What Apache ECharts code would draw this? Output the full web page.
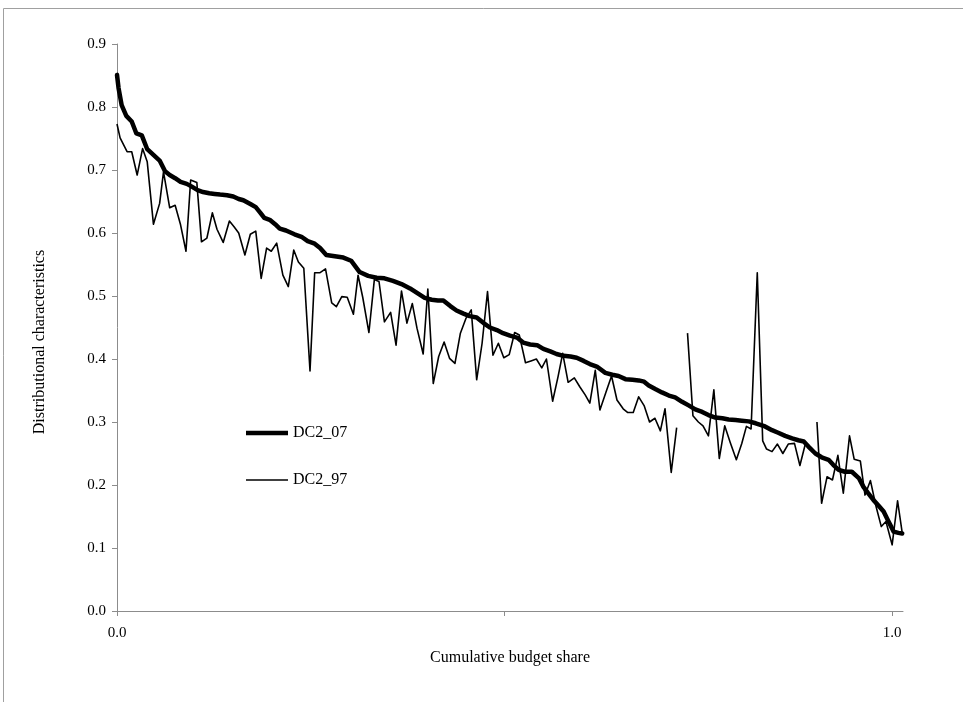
<!DOCTYPE html>
<html>
<head>
<meta charset="utf-8">
<script src="https://cdn.jsdelivr.net/npm/echarts@6/dist/echarts.min.js"></script>
<style>
  html, body { margin: 0; padding: 0; background: #fff; }
  #chart { width: 963px; height: 702px; }
</style>
</head>
<body>
<div id="chart"></div>
<script>
// Cumulative budget share (x) and distributional characteristics (y), 1997 survey
var share97 = [0.000, 0.004, 0.013, 0.019, 0.026, 0.033, 0.039, 0.047, 0.055, 0.060,
  0.068, 0.075, 0.082, 0.089, 0.095, 0.103, 0.109, 0.116, 0.123, 0.129,
  0.137, 0.145, 0.151, 0.157, 0.165, 0.172, 0.179, 0.186, 0.193, 0.199,
  0.206, 0.214, 0.221, 0.228, 0.234, 0.241, 0.249, 0.255, 0.262, 0.269,
  0.277, 0.283, 0.290, 0.297, 0.305, 0.311, 0.317, 0.325, 0.332, 0.338,
  0.345, 0.353, 0.360, 0.367, 0.374, 0.381, 0.387, 0.395, 0.401, 0.408,
  0.415, 0.422, 0.429, 0.436, 0.443, 0.450, 0.457, 0.464, 0.471, 0.478,
  0.485, 0.492, 0.499, 0.506, 0.513, 0.519, 0.527, 0.534, 0.541, 0.548,
  0.554, 0.562, 0.569, 0.575, 0.582, 0.590, 0.597, 0.604, 0.610, 0.617,
  0.623, 0.631, 0.638, 0.645, 0.653, 0.659, 0.666, 0.673, 0.680, 0.687,
  0.694, 0.701, 0.707, 0.715, 0.722, 0.729, 0.736, 0.743, 0.750, 0.756,
  0.763, 0.770, 0.777, 0.784, 0.791, 0.799, 0.806, 0.812, 0.818, 0.826,
  0.833, 0.838, 0.845, 0.852, 0.859, 0.866, 0.874, 0.881, 0.888, 0.895,
  0.903, 0.909, 0.916, 0.923, 0.930, 0.937, 0.945, 0.951, 0.959, 0.965,
  0.972, 0.979, 0.986, 0.992, 1.000, 1.007, 1.013];
var dc97 = [0.773, 0.751, 0.729, 0.729, 0.692, 0.734, 0.713, 0.614, 0.647, 0.697,
  0.640, 0.644, 0.613, 0.571, 0.684, 0.680, 0.586, 0.592, 0.632, 0.606,
  0.585, 0.619, 0.610, 0.600, 0.565, 0.598, 0.603, 0.528, 0.576, 0.571,
  0.584, 0.533, 0.515, 0.573, 0.554, 0.544, 0.381, 0.537, 0.537, 0.543,
  0.489, 0.483, 0.499, 0.498, 0.471, 0.533, 0.498, 0.442, 0.526, 0.523,
  0.459, 0.474, 0.422, 0.508, 0.457, 0.488, 0.449, 0.408, 0.511, 0.361,
  0.404, 0.427, 0.401, 0.393, 0.441, 0.464, 0.478, 0.367, 0.425, 0.507,
  0.406, 0.425, 0.402, 0.407, 0.442, 0.438, 0.394, 0.397, 0.400, 0.386,
  0.400, 0.333, 0.372, 0.409, 0.363, 0.370, 0.356, 0.343, 0.330, 0.382,
  0.319, 0.348, 0.373, 0.335, 0.321, 0.315, 0.315, 0.340, 0.326, 0.300,
  0.306, 0.286, 0.321, 0.220, 0.291, null, 0.441, 0.310, 0.300, 0.294,
  0.278, 0.351, 0.242, 0.294, 0.268, 0.240, 0.266, 0.293, 0.289, 0.537,
  0.270, 0.257, 0.253, 0.265, 0.250, 0.265, 0.266, 0.231, 0.265, null,
  0.300, 0.171, 0.213, 0.208, 0.247, 0.187, 0.278, 0.241, 0.238, 0.184,
  0.207, 0.167, 0.134, 0.142, 0.105, 0.175, 0.124];

// 2007 survey
var share07 = [0.000, 0.002, 0.006, 0.012, 0.019, 0.025, 0.032, 0.039, 0.047, 0.055,
  0.062, 0.068, 0.075, 0.082, 0.090, 0.096, 0.104, 0.111, 0.119, 0.126,
  0.133, 0.142, 0.150, 0.157, 0.163, 0.172, 0.179, 0.185, 0.190, 0.197,
  0.204, 0.210, 0.218, 0.229, 0.238, 0.246, 0.255, 0.262, 0.270, 0.281,
  0.292, 0.302, 0.307, 0.313, 0.324, 0.335, 0.345, 0.356, 0.367, 0.378,
  0.388, 0.397, 0.406, 0.414, 0.421, 0.430, 0.438, 0.447, 0.455, 0.464,
  0.473, 0.481, 0.490, 0.498, 0.507, 0.516, 0.524, 0.533, 0.542, 0.550,
  0.559, 0.567, 0.576, 0.585, 0.593, 0.602, 0.610, 0.619, 0.630, 0.639,
  0.647, 0.656, 0.665, 0.673, 0.680, 0.686, 0.695, 0.703, 0.712, 0.720,
  0.729, 0.738, 0.746, 0.755, 0.763, 0.772, 0.781, 0.789, 0.798, 0.806,
  0.815, 0.824, 0.836, 0.845, 0.853, 0.862, 0.871, 0.879, 0.886, 0.892,
  0.901, 0.909, 0.918, 0.924, 0.931, 0.939, 0.948, 0.957, 0.963, 0.969,
  0.976, 0.982, 0.989, 0.995, 1.002, 1.008, 1.013];
var dc07 = [0.851, 0.830, 0.803, 0.786, 0.777, 0.758, 0.755, 0.733, 0.724, 0.715,
  0.698, 0.692, 0.687, 0.681, 0.678, 0.674, 0.668, 0.665, 0.663, 0.662,
  0.661, 0.660, 0.658, 0.654, 0.652, 0.646, 0.641, 0.632, 0.624, 0.621,
  0.614, 0.607, 0.604, 0.598, 0.594, 0.587, 0.583, 0.576, 0.565, 0.563,
  0.561, 0.556, 0.548, 0.538, 0.532, 0.529, 0.528, 0.524, 0.519, 0.512,
  0.504, 0.497, 0.494, 0.493, 0.493, 0.484, 0.477, 0.472, 0.468, 0.466,
  0.457, 0.450, 0.446, 0.441, 0.437, 0.434, 0.426, 0.423, 0.422, 0.416,
  0.412, 0.408, 0.405, 0.404, 0.402, 0.397, 0.392, 0.388, 0.378, 0.375,
  0.373, 0.368, 0.367, 0.366, 0.364, 0.358, 0.352, 0.347, 0.342, 0.339,
  0.332, 0.326, 0.320, 0.316, 0.311, 0.307, 0.306, 0.304, 0.303, 0.302,
  0.301, 0.298, 0.293, 0.287, 0.283, 0.278, 0.274, 0.271, 0.269, 0.261,
  0.250, 0.244, 0.240, 0.232, 0.224, 0.221, 0.221, 0.211, 0.197, 0.187,
  0.176, 0.168, 0.158, 0.143, 0.126, 0.124, 0.123];

var xTicks = [0, 0.5, 1];
var xLabels = [0, 1];

function pairs(xs, ys) {
  return xs.map(function (x, i) { return [x, ys[i] === null ? '-' : ys[i]]; });
}

var serif = '"Liberation Serif", "Times New Roman", serif';
var axisGray = '#8c8c8c';
var legendText = { fontFamily: serif, fontSize: 16, color: '#000' };

var chart = echarts.init(document.getElementById('chart'));
chart.setOption({
  animation: false,
  backgroundColor: '#fff',
  grid: { left: 117, right: 60, top: 44, bottom: 91 },
  xAxis: {
    type: 'value',
    min: 0,
    max: 1.014,
    interval: 0.5,
    name: 'Cumulative budget share',
    nameLocation: 'middle',
    nameGap: 39,
    nameTextStyle: { fontFamily: serif, fontSize: 16, color: '#000' },
    axisLine: { lineStyle: { color: axisGray, width: 1 } },
    axisTick: { show: true, length: 5, lineStyle: { color: axisGray }, customValues: xTicks },
    axisLabel: {
      fontFamily: serif, fontSize: 15, color: '#000', margin: 15,
      customValues: xLabels,
      formatter: function (v) { return (v === 0 || v === 1) ? v.toFixed(1) : ''; }
    },
    splitLine: { show: false }
  },
  yAxis: {
    type: 'value',
    min: 0,
    max: 0.9,
    interval: 0.1,
    axisLine: { show: true, lineStyle: { color: axisGray, width: 1 } },
    axisTick: { show: true, length: 5, lineStyle: { color: axisGray } },
    axisLabel: {
      fontFamily: serif, fontSize: 15, color: '#000', margin: 11,
      formatter: function (v) { return v.toFixed(1); }
    },
    splitLine: { show: false }
  },
  // one legend per series so each key line keeps its own thickness
  legend: [
    {
      orient: 'vertical', left: 246, top: 425, padding: 0,
      icon: 'rect', itemWidth: 42, itemHeight: 4.5,
      itemStyle: { color: '#000' },
      textStyle: legendText,
      data: ['DC2_07']
    },
    {
      orient: 'vertical', left: 246, top: 472, padding: 0,
      icon: 'rect', itemWidth: 42, itemHeight: 1.6,
      itemStyle: { color: '#000' },
      textStyle: legendText,
      data: ['DC2_97']
    }
  ],
  graphic: [
    { type: 'line', shape: { x1: 3.5, y1: 8.5, x2: 963, y2: 8.5 }, style: { stroke: '#a0a0a0', lineWidth: 1 } },
    { type: 'line', shape: { x1: 3.5, y1: 8.5, x2: 3.5, y2: 702 }, style: { stroke: '#a0a0a0', lineWidth: 1 } },
    {
      type: 'text', x: 40, y: 342, rotation: Math.PI / 2,
      style: {
        text: 'Distributional characteristics', fontFamily: serif, fontSize: 16,
        fill: '#000', align: 'center', verticalAlign: 'middle'
      }
    }
  ],
  series: [
    {
      name: 'DC2_07',
      type: 'line',
      symbol: 'none',
      data: pairs(share07, dc07),
      lineStyle: { color: '#000', width: 4.5, join: 'round', cap: 'round' },
      itemStyle: { color: '#000' },
      z: 3
    },
    {
      name: 'DC2_97',
      type: 'line',
      symbol: 'none',
      connectNulls: false,
      data: pairs(share97, dc97),
      lineStyle: { color: '#000', width: 1.6, join: 'round' },
      itemStyle: { color: '#000' },
      z: 2
    }
  ]
});
</script>
</body>
</html>
